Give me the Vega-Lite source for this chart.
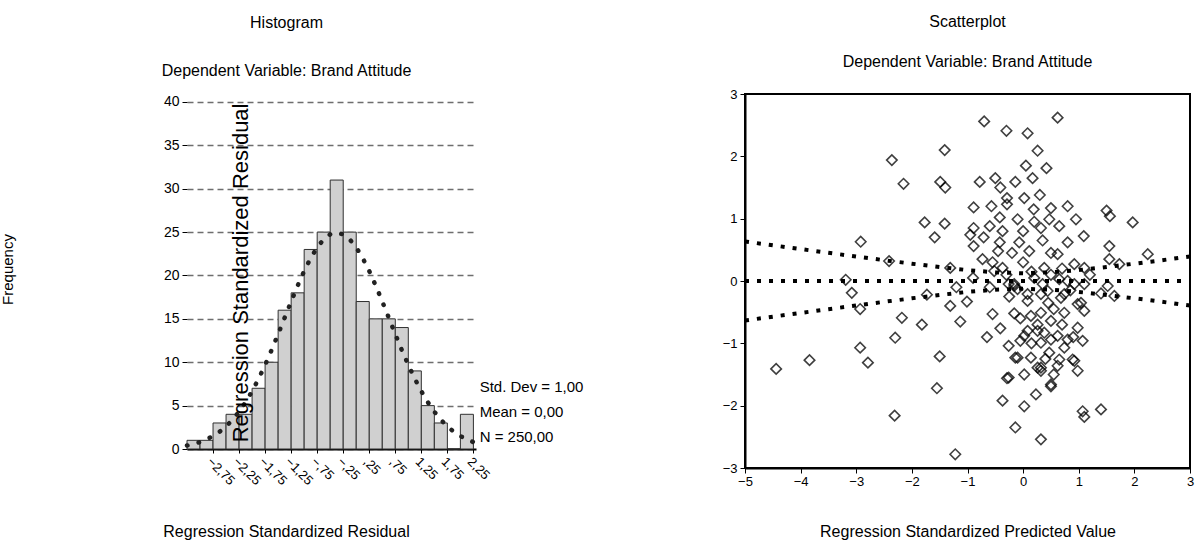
{
  "$schema": "https://vega.github.io/schema/vega-lite/v6.json",
  "background": "white",
  "padding": {"left": 0, "top": 13, "right": 0, "bottom": 0},
  "spacing": 137,
  "config": {
    "font": "Liberation Sans",
    "axis": {"labelColor": "black", "titleColor": "black", "tickColor": "black", "labelFont": "Liberation Sans", "titleFont": "Liberation Sans", "labelOverlap": false},
    "axisX": {"labelOverlap": false},
    "axisQuantitative": {"labelOverlap": false},
    "title": {"font": "Liberation Sans", "color": "black", "subtitleColor": "black", "subtitleFont": "Liberation Sans", "fontWeight": "normal", "fontSize": 16, "subtitleFontSize": 16}
  },
  "datasets": {
    "hist": [
      {"x": -3.25, "end": -3.0, "count": 1},
      {"x": -3.0, "end": -2.75, "count": 1},
      {"x": -2.75, "end": -2.5, "count": 3},
      {"x": -2.5, "end": -2.25, "count": 4},
      {"x": -2.25, "end": -2.0, "count": 4},
      {"x": -2.0, "end": -1.75, "count": 7},
      {"x": -1.75, "end": -1.5, "count": 10},
      {"x": -1.5, "end": -1.25, "count": 16},
      {"x": -1.25, "end": -1.0, "count": 18},
      {"x": -1.0, "end": -0.75, "count": 23},
      {"x": -0.75, "end": -0.5, "count": 25},
      {"x": -0.5, "end": -0.25, "count": 31},
      {"x": -0.25, "end": 0.0, "count": 25},
      {"x": 0.0, "end": 0.25, "count": 17},
      {"x": 0.25, "end": 0.5, "count": 15},
      {"x": 0.5, "end": 0.75, "count": 15},
      {"x": 0.75, "end": 1.0, "count": 14},
      {"x": 1.0, "end": 1.25, "count": 9},
      {"x": 1.25, "end": 1.5, "count": 5},
      {"x": 1.5, "end": 1.75, "count": 3},
      {"x": 1.75, "end": 2.0, "count": 0},
      {"x": 2.0, "end": 2.25, "count": 4}
    ],
    "curve": [
      {"x": -3.25, "y": 0.40}, {"x": -3.125, "y": 0.57}, {"x": -3.0, "y": 0.80}, {"x": -2.875, "y": 1.10},
      {"x": -2.75, "y": 1.49}, {"x": -2.625, "y": 1.98}, {"x": -2.5, "y": 2.61}, {"x": -2.375, "y": 3.37},
      {"x": -2.25, "y": 4.30}, {"x": -2.125, "y": 5.39}, {"x": -2.0, "y": 6.66}, {"x": -1.875, "y": 8.09},
      {"x": -1.75, "y": 9.69}, {"x": -1.625, "y": 11.41}, {"x": -1.5, "y": 13.24}, {"x": -1.375, "y": 15.12},
      {"x": -1.25, "y": 17.00}, {"x": -1.125, "y": 18.82}, {"x": -1.0, "y": 20.51}, {"x": -0.875, "y": 22.00},
      {"x": -0.75, "y": 23.24}, {"x": -0.625, "y": 24.16}, {"x": -0.5, "y": 24.74}, {"x": -0.375, "y": 24.93},
      {"x": -0.25, "y": 24.74}, {"x": -0.125, "y": 24.16}, {"x": 0.0, "y": 23.24}, {"x": 0.125, "y": 22.00},
      {"x": 0.25, "y": 20.51}, {"x": 0.375, "y": 18.82}, {"x": 0.5, "y": 17.00}, {"x": 0.625, "y": 15.12},
      {"x": 0.75, "y": 13.24}, {"x": 0.875, "y": 11.41}, {"x": 1.0, "y": 9.69}, {"x": 1.125, "y": 8.09},
      {"x": 1.25, "y": 6.66}, {"x": 1.375, "y": 5.39}, {"x": 1.5, "y": 4.30}, {"x": 1.625, "y": 3.37},
      {"x": 1.75, "y": 2.61}, {"x": 1.875, "y": 1.98}, {"x": 2.0, "y": 1.49}, {"x": 2.125, "y": 1.10},
      {"x": 2.25, "y": 0.80}
    ],
    "overlay": [
      {"x": -2.21, "y": 20.3, "label": "Regression  Standardized  Residual"}
    ],
    "stats": [
      {"x": 2.37, "y": 7.15, "label": "Std. Dev = 1,00"},
      {"x": 2.37, "y": 4.27, "label": "Mean = 0,00"},
      {"x": 2.37, "y": 1.38, "label": "N = 250,00"}
    ],
    "points": [
      {"x": -2.36, "y": 1.94}, {"x": -2.15, "y": 1.56}, {"x": -1.41, "y": 2.10}, {"x": 0.62, "y": 2.62},
      {"x": -0.70, "y": 2.56}, {"x": -0.30, "y": 2.41}, {"x": 0.08, "y": 2.37}, {"x": 0.26, "y": 2.09},
      {"x": -2.92, "y": 0.63}, {"x": -2.41, "y": 0.32}, {"x": -3.19, "y": 0.02}, {"x": -3.08, "y": -0.19},
      {"x": -2.93, "y": -0.45}, {"x": -2.18, "y": -0.59}, {"x": -2.30, "y": -0.91}, {"x": -1.77, "y": 0.94},
      {"x": -1.82, "y": -0.70}, {"x": -4.44, "y": -1.41}, {"x": -3.84, "y": -1.27}, {"x": -2.93, "y": -1.07},
      {"x": -2.79, "y": -1.31}, {"x": -2.31, "y": -2.16}, {"x": -1.50, "y": -1.21}, {"x": -1.55, "y": -1.72},
      {"x": -1.22, "y": -2.78}, {"x": -1.73, "y": -0.22}, {"x": -1.41, "y": 0.92}, {"x": -1.59, "y": 0.70},
      {"x": -1.49, "y": 1.59}, {"x": -1.40, "y": 1.50},
      {"x": 0.05, "y": 1.85}, {"x": 0.42, "y": 1.81}, {"x": -0.78, "y": 1.59}, {"x": -0.50, "y": 1.65},
      {"x": -0.14, "y": 1.59}, {"x": 0.17, "y": 1.65}, {"x": -0.41, "y": 1.50},
      {"x": -0.89, "y": 1.18}, {"x": -0.57, "y": 1.20}, {"x": -0.29, "y": 1.33}, {"x": 0.02, "y": 1.33},
      {"x": 0.30, "y": 1.38}, {"x": -0.29, "y": 1.23}, {"x": 0.19, "y": 1.15}, {"x": 0.50, "y": 1.17},
      {"x": 0.80, "y": 1.20}, {"x": 1.50, "y": 1.13}, {"x": 1.56, "y": 1.04}, {"x": 1.97, "y": 0.94},
      {"x": -0.89, "y": 0.85}, {"x": -0.60, "y": 0.88}, {"x": -0.42, "y": 1.02}, {"x": -0.37, "y": 0.80},
      {"x": -0.10, "y": 0.99}, {"x": 0.00, "y": 0.80}, {"x": 0.32, "y": 0.85}, {"x": 0.47, "y": 0.99},
      {"x": 0.65, "y": 0.88}, {"x": 0.95, "y": 0.99}, {"x": 1.09, "y": 0.72}, {"x": 1.55, "y": 0.56},
      {"x": 2.24, "y": 0.43}, {"x": -0.95, "y": 0.74}, {"x": -0.71, "y": 0.70}, {"x": -0.89, "y": 0.56},
      {"x": -0.45, "y": 0.48}, {"x": -0.42, "y": 0.62}, {"x": -0.07, "y": 0.62}, {"x": 0.11, "y": 0.48},
      {"x": 0.62, "y": 0.43}, {"x": 0.80, "y": 0.62}, {"x": 0.92, "y": 0.27}, {"x": 1.10, "y": 0.21},
      {"x": 1.55, "y": 0.35}, {"x": 1.73, "y": 0.27}, {"x": -0.73, "y": 0.35}, {"x": -0.37, "y": 0.21},
      {"x": -1.31, "y": 0.21}, {"x": -0.52, "y": 0.16}, {"x": 0.38, "y": 0.21}, {"x": 0.65, "y": 0.03},
      {"x": 1.10, "y": -0.05}, {"x": -0.16, "y": -0.05},
      {"x": -1.31, "y": -0.40}, {"x": -1.01, "y": -0.33}, {"x": -1.13, "y": -0.65}, {"x": -0.55, "y": -0.53},
      {"x": -0.41, "y": -0.76}, {"x": -0.65, "y": -0.90}, {"x": -0.26, "y": -1.04}, {"x": -0.14, "y": -1.23},
      {"x": 0.02, "y": -1.50}, {"x": -0.29, "y": -1.56}, {"x": -0.37, "y": -1.92}, {"x": 0.02, "y": -2.01},
      {"x": -0.14, "y": -2.35}, {"x": 0.32, "y": -2.54}, {"x": 0.23, "y": -1.82}, {"x": 0.50, "y": -1.66},
      {"x": 0.32, "y": -1.39}, {"x": 0.47, "y": -1.15}, {"x": 0.62, "y": -1.36}, {"x": 0.89, "y": -1.26},
      {"x": -0.16, "y": -0.52}, {"x": 0.02, "y": -0.88}, {"x": 0.26, "y": -0.80}, {"x": 0.32, "y": -0.99},
      {"x": 0.50, "y": -0.64}, {"x": 0.74, "y": -0.51}, {"x": 0.80, "y": -0.94}, {"x": 0.08, "y": -0.32},
      {"x": 0.32, "y": -0.51}, {"x": 0.44, "y": -0.16}, {"x": 0.92, "y": -0.05}, {"x": 0.68, "y": -0.27},
      {"x": 0.98, "y": -0.37}, {"x": -0.16, "y": -0.08},
      {"x": 1.07, "y": -2.09}, {"x": 1.10, "y": -2.18}, {"x": 1.40, "y": -2.06}, {"x": 0.98, "y": -0.75},
      {"x": 1.07, "y": -0.96}, {"x": 1.10, "y": -0.48}, {"x": 1.04, "y": -0.35}, {"x": 1.64, "y": -0.24},
      {"x": 1.52, "y": -0.08}, {"x": -0.10, "y": -1.23}, {"x": -0.26, "y": -1.55}, {"x": 0.32, "y": -1.44},
      {"x": 0.50, "y": -1.69}, {"x": 0.92, "y": -1.28}, {"x": 0.74, "y": -0.21}, {"x": 0.32, "y": -0.21},
      {"x": 0.08, "y": -0.21}, {"x": -0.26, "y": -0.05}, {"x": -0.10, "y": -0.13}, {"x": 0.14, "y": -0.56},
      {"x": 0.26, "y": -0.70}, {"x": 0.38, "y": -0.83}, {"x": 0.62, "y": -0.88}, {"x": 0.50, "y": -0.94},
      {"x": 0.74, "y": -1.07}, {"x": 0.08, "y": -0.80}, {"x": -0.05, "y": -0.96}, {"x": 0.14, "y": -1.23},
      {"x": 0.65, "y": -1.26}, {"x": 0.98, "y": -1.44}, {"x": 0.26, "y": -1.39},
      {"x": -0.90, "y": 0.05}, {"x": -0.60, "y": -0.10}, {"x": -0.30, "y": 0.10}, {"x": 0.20, "y": 0.05},
      {"x": 0.50, "y": 0.10}, {"x": 0.80, "y": 0.00}, {"x": 1.20, "y": 0.10}, {"x": 1.40, "y": -0.20},
      {"x": -1.20, "y": -0.10}, {"x": 0.35, "y": -0.05},
      {"x": -0.20, "y": 0.45}, {"x": 0.00, "y": 0.30}, {"x": 0.15, "y": 0.15}, {"x": 0.45, "y": -0.35},
      {"x": 0.55, "y": -0.45}, {"x": 0.20, "y": 0.95}, {"x": 0.35, "y": 0.65}, {"x": 0.50, "y": 0.45},
      {"x": 0.70, "y": 0.20}, {"x": 0.85, "y": -0.15}, {"x": -0.55, "y": 0.30}, {"x": -0.25, "y": -0.25},
      {"x": -0.05, "y": -0.60}, {"x": 0.15, "y": -1.00}, {"x": 0.40, "y": -1.25}, {"x": 0.55, "y": -1.50},
      {"x": 0.70, "y": -0.70}, {"x": 0.90, "y": -0.90}
    ],
    "bands": [
      {"x": -5, "y": 0.633, "band": "upper"}, {"x": -4.5, "y": 0.573, "band": "upper"}, {"x": -4, "y": 0.512, "band": "upper"},
      {"x": -3.5, "y": 0.452, "band": "upper"}, {"x": -3, "y": 0.393, "band": "upper"}, {"x": -2.5, "y": 0.334, "band": "upper"},
      {"x": -2, "y": 0.278, "band": "upper"}, {"x": -1.5, "y": 0.224, "band": "upper"}, {"x": -1, "y": 0.175, "band": "upper"},
      {"x": -0.5, "y": 0.139, "band": "upper"}, {"x": 0, "y": 0.124, "band": "upper"}, {"x": 0.5, "y": 0.139, "band": "upper"},
      {"x": 1, "y": 0.175, "band": "upper"}, {"x": 1.5, "y": 0.224, "band": "upper"}, {"x": 2, "y": 0.278, "band": "upper"},
      {"x": 2.5, "y": 0.334, "band": "upper"}, {"x": 3, "y": 0.393, "band": "upper"},
      {"x": -5, "y": 0, "band": "fit"}, {"x": 3, "y": 0, "band": "fit"},
      {"x": -5, "y": -0.633, "band": "lower"}, {"x": -4.5, "y": -0.573, "band": "lower"}, {"x": -4, "y": -0.512, "band": "lower"},
      {"x": -3.5, "y": -0.452, "band": "lower"}, {"x": -3, "y": -0.393, "band": "lower"}, {"x": -2.5, "y": -0.334, "band": "lower"},
      {"x": -2, "y": -0.278, "band": "lower"}, {"x": -1.5, "y": -0.224, "band": "lower"}, {"x": -1, "y": -0.175, "band": "lower"},
      {"x": -0.5, "y": -0.139, "band": "lower"}, {"x": 0, "y": -0.124, "band": "lower"}, {"x": 0.5, "y": -0.139, "band": "lower"},
      {"x": 1, "y": -0.175, "band": "lower"}, {"x": 1.5, "y": -0.224, "band": "lower"}, {"x": 2, "y": -0.278, "band": "lower"},
      {"x": 2.5, "y": -0.334, "band": "lower"}, {"x": 3, "y": -0.393, "band": "lower"}
    ]
  },
  "hconcat": [
    {
      "width": 289,
      "height": 355,
      "view": {"stroke": null},
      "title": {"text": "Histogram", "subtitle": "Dependent Variable: Brand Attitude", "anchor": "middle", "dx": -45, "subtitlePadding": 32, "offset": 15},
      "encoding": {
        "x": {"field": "x", "type": "quantitative", "scale": {"domain": [-3.25, 2.3], "nice": false, "zero": false},
          "axis": {"values": [-2.75, -2.25, -1.75, -1.25, -0.75, -0.25, 0.25, 0.75, 1.25, 1.75, 2.25],
            "labelExpr": "replace(replace(format(datum.value, '.2f'), '0.', '.'), '.', ',')",
            "labelOverlap": false, "labelSeparation": 0, "labelFlush": false,
            "labelAngle": 45, "labelAlign": "left", "labelBaseline": "top", "labelFontSize": 13, "labelPadding": 2,
            "tickSize": 4, "domainColor": "black", "domainWidth": 2, "grid": false,
            "title": "Regression Standardized Residual", "titleX": 99, "titleY": 82, "titleAlign": "center", "titleBaseline": "middle",
            "titleFontSize": 16, "titleFontWeight": "normal"}}
      },
      "layer": [
        {
          "data": {"name": "hist"},
          "mark": {"type": "rect", "fill": "#d0d0d0", "stroke": "#303030", "strokeWidth": 1},
          "encoding": {
            "x2": {"field": "end"},
            "y": {"field": "count", "type": "quantitative", "scale": {"domain": [0, 40.92], "nice": false},
              "axis": {"values": [0, 5, 10, 15, 20, 25, 30, 35, 40], "grid": true, "gridDash": [6, 4], "gridColor": "#6e6e6e", "gridWidth": 1.5,
                "domain": false, "tickSize": 5, "labelFontSize": 14, "labelPadding": 3,
                "title": "Frequency", "titleX": -172, "titleY": 175, "titleAngle": 270, "titleAlign": "center", "titleBaseline": "bottom",
                "titleFontSize": 15, "titleFontWeight": "normal"}},
            "y2": {"datum": 0}
          }
        },
        {
          "mark": {"type": "rule", "color": "#8a8a8a", "strokeWidth": 3},
          "encoding": {
            "x": {"datum": -3.25, "type": "quantitative"},
            "y": {"datum": 0, "type": "quantitative"},
            "y2": {"datum": 40}
          }
        },
        {
          "data": {"name": "curve"},
          "mark": {"type": "line", "color": "#222222", "strokeWidth": 4.5, "strokeCap": "round", "strokeDash": [0.5, 11.5]},
          "encoding": {
            "y": {"field": "y", "type": "quantitative"}
          }
        },
        {
          "data": {"name": "overlay"},
          "mark": {"type": "text", "angle": 270, "fontSize": 22, "align": "center", "baseline": "middle", "color": "black"},
          "encoding": {
            "y": {"field": "y", "type": "quantitative"},
            "text": {"field": "label"}
          }
        },
        {
          "data": {"name": "stats"},
          "mark": {"type": "text", "fontSize": 15, "align": "left", "baseline": "middle", "color": "black"},
          "encoding": {
            "y": {"field": "y", "type": "quantitative"},
            "text": {"field": "label"}
          }
        }
      ]
    },
    {
      "width": 445,
      "height": 374,
      "view": {"stroke": "black", "strokeWidth": 2},
      "title": {"text": "Scatterplot", "subtitle": "Dependent Variable: Brand Attitude", "anchor": "middle", "subtitlePadding": 24, "offset": 18},
      "layer": [
        {
          "data": {"name": "points"},
          "mark": {"type": "point", "shape": "diamond", "filled": false, "stroke": "black", "strokeWidth": 1.6, "size": 110, "opacity": 0.75},
          "encoding": {
            "x": {"field": "x", "type": "quantitative", "scale": {"domain": [-5, 3], "nice": false, "zero": false},
              "axis": {"values": [-5, -4, -3, -2, -1, 0, 1, 2, 3], "format": "d", "grid": false, "labelFontSize": 13, "tickSize": 5, "domainColor": "black", "domainWidth": 2, "labelFlush": false,
                "title": "Regression Standardized Predicted Value", "titleY": 63, "titleBaseline": "middle", "titleFontSize": 16, "titleFontWeight": "normal"}},
            "y": {"field": "y", "type": "quantitative", "scale": {"domain": [-3, 3], "nice": false},
              "axis": {"values": [-3, -2, -1, 0, 1, 2, 3], "format": "d", "grid": false, "labelFontSize": 13, "tickSize": 5, "labelPadding": 3, "domainColor": "black", "domainWidth": 2, "labelFlush": false, "title": null}}
          }
        },
        {
          "data": {"name": "bands"},
          "mark": {"type": "line", "color": "black", "strokeWidth": 4, "strokeDash": [4, 8]},
          "encoding": {
            "x": {"field": "x", "type": "quantitative"},
            "y": {"field": "y", "type": "quantitative"},
            "detail": {"field": "band"}
          }
        }
      ]
    }
  ]
}
